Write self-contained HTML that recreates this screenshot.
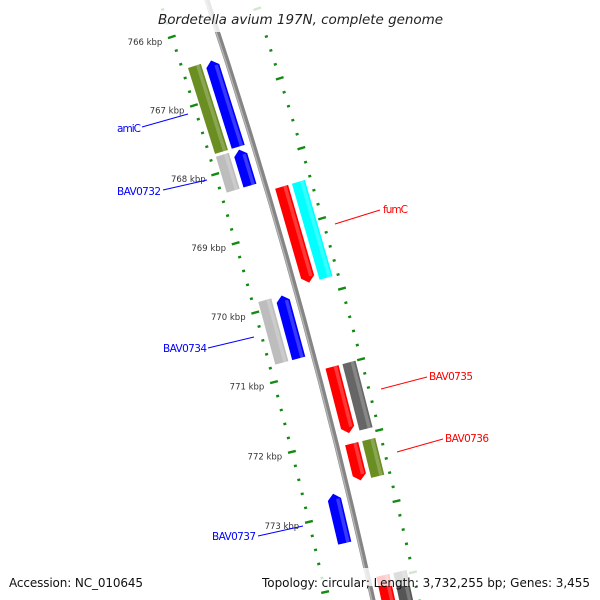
<!DOCTYPE html>
<html><head><meta charset="utf-8"><style>
html,body{margin:0;padding:0;background:#fff;width:600px;height:600px;overflow:hidden;}
svg{display:block;font-family:"DejaVu Sans","Liberation Sans",sans-serif;}
</style></head><body>
<svg id="map" width="600" height="600" viewBox="0 0 600 600" xmlns="http://www.w3.org/2000/svg" overflow="hidden">
<rect x="0" y="0" width="600" height="600" fill="#fff"/>
<g id="rings"></g>
<g id="backbone"></g>
<g id="feats"></g>
<g id="ticklabels"></g>
<g font-size="10.5">
<line x1="142" y1="127" x2="188" y2="114" stroke="#0000ff" stroke-width="1"/>
<text x="117" y="132" fill="#0000ff" textLength="24">amiC</text>
<line x1="163" y1="190" x2="207" y2="180" stroke="#0000ff" stroke-width="1"/>
<text x="117" y="195" fill="#0000ff" textLength="44">BAV0732</text>
<line x1="208" y1="348" x2="254" y2="337" stroke="#0000ff" stroke-width="1"/>
<text x="163" y="352" fill="#0000ff" textLength="44">BAV0734</text>
<line x1="258" y1="536" x2="303" y2="526" stroke="#0000ff" stroke-width="1"/>
<text x="212" y="540" fill="#0000ff" textLength="44">BAV0737</text>
<line x1="335" y1="224" x2="380" y2="210" stroke="#ff0000" stroke-width="1"/>
<text x="383" y="213" fill="#ff0000" textLength="25">fumC</text>
<line x1="381" y1="389" x2="427" y2="377" stroke="#ff0000" stroke-width="1"/>
<text x="429" y="380" fill="#ff0000" textLength="44">BAV0735</text>
<line x1="397" y1="452" x2="443" y2="439" stroke="#ff0000" stroke-width="1"/>
<text x="445" y="442" fill="#ff0000" textLength="44">BAV0736</text>
</g>
<rect x="150" y="0" width="300" height="32" fill="#fff" fill-opacity="0.8"/>
<rect x="0" y="568" width="600" height="18" fill="#fff" fill-opacity="0.8"/>
<text x="158" y="24" font-size="13.5" font-style="italic" fill="#222" textLength="285">Bordetella avium 197N, complete genome</text>
<text x="9" y="587" font-size="12" fill="#111" textLength="134">Accession: NC_010645</text>
<text x="262" y="587" font-size="12" fill="#111" textLength="328">Topology: circular; Length: 3,732,255 bp; Genes: 3,455</text>
</svg>
<script>
// ---- data ----
const featNames = ["amiC","BAV0732","fumC","BAV0734","BAV0735","BAV0736","BAV0737","BAV0738"];
const featStart = [766.48, 767.77, 768.43, 769.87, 771.00, 772.09, 772.70, 773.95];
const featEnd   = [767.73, 768.29, 769.80, 770.77, 771.94, 772.61, 773.40, 775.20];
const featStrand = [-1, -1, 1, -1, 1, 1, -1, 1];
const cogColor = ["#6b8e23","#bdbdbd","#00ffff","#bdbdbd","#666666","#6b8e23","none","#555555"];
const tickStartKbp = 765;
const tickEndKbp = 776;
const tickLabelKbp = [766, 767, 768, 769, 770, 771, 772, 773];

// ---- geometry (circular map scale) ----
const CX = -5427, CY = 1882, R = 5940;
function ang(kbp){ return (-18.24 + (kbp - 766) * 0.7) * Math.PI / 180; }
function pt(kbp, r){ const a = ang(kbp); return [CX + r*Math.cos(a), CY + r*Math.sin(a)]; }
const NS = "http://www.w3.org/2000/svg";
function mk(tag, parent){ const e = document.createElementNS(NS, tag); parent.appendChild(e); return e; }

const bb = document.getElementById("backbone");
function arcPath(r, k0, k1){ const a = pt(k0, r), b = pt(k1, r); return "M"+a[0]+","+a[1]+" A"+r+","+r+" 0 0 1 "+b[0]+","+b[1]; }
const bbMain = mk("path", bb);


bbMain.setAttribute("d", arcPath(R, 765.2, 774.6));
bbMain.setAttribute("stroke", "#858585"); bbMain.setAttribute("stroke-width", "5"); bbMain.setAttribute("fill", "none");
const bbHi = mk("path", bb);


bbHi.setAttribute("d", arcPath(R - 1.3, 765.2, 774.6));
bbHi.setAttribute("stroke", "#b5b5b5"); bbHi.setAttribute("stroke-width", "1.4"); bbHi.setAttribute("fill", "none");

const rings = document.getElementById("rings");
const ringR = [5895, 5985];
ringR.forEach(function(rr){
  for (let i = tickStartKbp*10; i <= tickEndKbp*10; i += 2){
    const k = i/10, major = (i % 10 === 0);
    const h = major ? 4 : 1.5;
    const a = pt(k, rr - h), b = pt(k, rr + h);
    if (a[1] > 605 || b[1] > 605) continue;
    const t = mk("line", rings);
    
    
    t.setAttribute("x1", a[0]); t.setAttribute("y1", a[1]);
    t.setAttribute("x2", b[0]); t.setAttribute("y2", b[1]);
    t.setAttribute("stroke", "#148a14"); t.setAttribute("stroke-width", "2.4");
  }
});
const tl = document.getElementById("ticklabels");
tickLabelKbp.forEach(function(k){
  const p = pt(k, 5885);
  const t = mk("text", tl);
  
  
  t.setAttribute("x", p[0]); t.setAttribute("y", p[1] + 5);
  t.setAttribute("text-anchor", "end"); t.setAttribute("font-size", "8.5"); t.setAttribute("fill", "#333");
  t.textContent = k + " kbp";
});

const feats = document.getElementById("feats");
const W = 13.5, AR = 0.08;
function shape(s, e, rc, strand, arrow){
  const r0 = rc - W/2, r1 = rc + W/2;
  let p;
  if (!arrow) p = [pt(s,r0), pt(e,r0), pt(e,r1), pt(s,r1)];
  else if (strand > 0) p = [pt(s,r0), pt(e-AR,r0), pt(e,rc), pt(e-AR,r1), pt(s,r1)];
  else p = [pt(s+AR,r0), pt(s,rc), pt(s+AR,r1), pt(e,r1), pt(e,r0)];
  return p.map(function(q){ return q[0].toFixed(2)+","+q[1].toFixed(2); }).join(" ");
}
function strip(s, e, rc, strand, arrow){
  const a0 = rc + W*0.12, a1 = rc + W*0.38;
  const ss = (arrow && strand < 0) ? s + AR : s, ee = (arrow && strand > 0) ? e - AR : e;
  return [pt(ss,a0), pt(ee,a0), pt(ee,a1), pt(ss,a1)].map(function(q){ return q[0].toFixed(2)+","+q[1].toFixed(2); }).join(" ");
}
for (let i = 0; i < featNames.length; i++){
  const s = featStart[i], e = featEnd[i], st = featStrand[i];
  const rcIn = st > 0 ? R + 15 : R - 15;
  const rcOut = st > 0 ? R + 32.5 : R - 32.5;
  const g = mk("g", feats);
  
  
  const body = mk("polygon", g);
  
  
  body.setAttribute("points", shape(s, e, rcIn, st, true));
  body.setAttribute("fill", st > 0 ? "#ff0000" : "#0000ff");
  const hl = mk("polygon", g);
  
  
  hl.setAttribute("points", strip(s, e, rcIn, st, true));
  hl.setAttribute("fill", "#fff"); hl.setAttribute("fill-opacity", "0.22");
  if (cogColor[i] !== "none"){
    const c = mk("polygon", g);
    
    
    c.setAttribute("points", shape(s, e, rcOut, st, false));
    c.setAttribute("fill", cogColor[i]);
    const h2 = mk("polygon", g);
    
    
    h2.setAttribute("points", strip(s, e, rcOut, st, false));
    h2.setAttribute("fill", "#fff"); h2.setAttribute("fill-opacity", "0.22");
  }
}
</script>
</body></html>
